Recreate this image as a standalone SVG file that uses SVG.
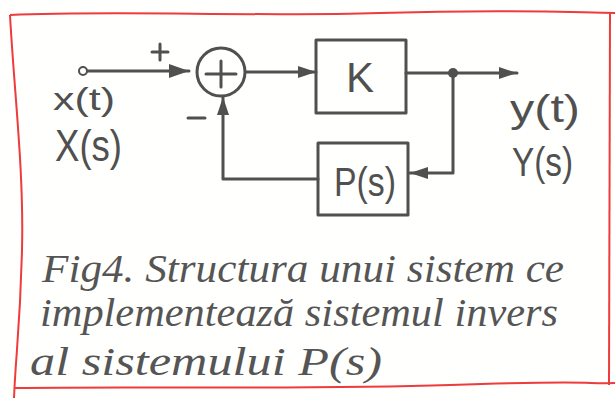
<svg xmlns="http://www.w3.org/2000/svg" width="615" height="400" viewBox="0 0 615 400">
<style>
.ln{fill:none;stroke:#505050;stroke-width:3;stroke-linecap:round;stroke-linejoin:round}
.lbl{font-family:"Liberation Sans",Arial,sans-serif;fill:#505050}
.cap{font-family:"Liberation Serif","Times New Roman",serif;font-style:italic;fill:#555;font-size:40px}
.border{fill:none;stroke:#ee3b3b;stroke-width:2}
</style>
<defs>
<marker id="ah" viewBox="0 0 20 14" refX="20" refY="7" markerWidth="20" markerHeight="14" markerUnits="userSpaceOnUse" orient="auto">
<path d="M0,0 L20,7 L0,14 Z" fill="#505050"/>
</marker>
<marker id="ahs" viewBox="0 0 18 12" refX="18" refY="6" markerWidth="18" markerHeight="12" markerUnits="userSpaceOnUse" orient="auto">
<path d="M0,0 L18,6 L0,12 Z" fill="#505050"/>
</marker>
</defs>
<rect width="615" height="400" fill="#fffffd"/>
<path class="border" d="M10,15 C120,10 250,17 380,13 S560,12 615,13"/>
<path class="border" d="M10,15 C14,90 24,170 22,250 S16,350 14,398"/>
<path class="border" d="M610,13 L609,385"/>
<path class="border" d="M14,388 C150,386 300,390 450,385 S580,384 615,383"/>

<g id="connectors">
<line class="ln" x1="87" y1="71" x2="189" y2="71" marker-end="url(#ah)"/>
<line class="ln" x1="246" y1="72" x2="316" y2="72" marker-end="url(#ahs)"/>
<line class="ln" x1="406" y1="73" x2="517" y2="73" marker-end="url(#ahs)"/>
<polyline class="ln" points="453,73 453,173 410,173" marker-end="url(#ahs)"/>
<polyline class="ln" points="318,179 223,179 223,97" marker-end="url(#ahs)"/>
<circle cx="453" cy="73" r="5" fill="#505050"/>
</g>

<g id="input">
<circle cx="83" cy="71" r="4" fill="#fff" stroke="#505050" stroke-width="2"/>
<text class="lbl" x="53" y="110" font-size="32" textLength="62" lengthAdjust="spacingAndGlyphs">x(t)</text>
<text class="lbl" x="55" y="161" font-size="44" textLength="67" lengthAdjust="spacingAndGlyphs">X(s)</text>
</g>

<g id="sum">
<circle class="ln" cx="221" cy="72" r="24"/>
<line class="ln" x1="206" y1="74" x2="236" y2="74"/>
<line class="ln" x1="221" y1="61" x2="221" y2="87"/>
<line class="ln" x1="152" y1="52" x2="168" y2="52"/>
<line class="ln" x1="160" y1="44" x2="160" y2="60"/>
<line class="ln" x1="188" y1="118" x2="205" y2="118"/>
</g>

<g id="K">
<rect class="ln" x="316" y="40" width="90" height="73"/>
<text class="lbl" x="360" y="92" font-size="42" text-anchor="middle">K</text>
</g>

<g id="P">
<rect class="ln" x="318" y="143" width="90" height="72"/>
<text class="lbl" x="334" y="196" font-size="40" textLength="62" lengthAdjust="spacingAndGlyphs">P(s)</text>
</g>

<g id="output">
<text class="lbl" x="510" y="122" font-size="38" textLength="70" lengthAdjust="spacingAndGlyphs">y(t)</text>
<text class="lbl" x="512" y="176" font-size="40" textLength="61" lengthAdjust="spacingAndGlyphs">Y(s)</text>
</g>

<g id="caption">
<text class="cap" x="42" y="282" textLength="522" lengthAdjust="spacingAndGlyphs">Fig4. Structura unui sistem ce</text>
<text class="cap" x="40" y="326" textLength="518" lengthAdjust="spacingAndGlyphs">implementează sistemul invers</text>
<text class="cap" x="30" y="375" textLength="352" lengthAdjust="spacingAndGlyphs">al sistemului P(s)</text>
</g>
</svg>
